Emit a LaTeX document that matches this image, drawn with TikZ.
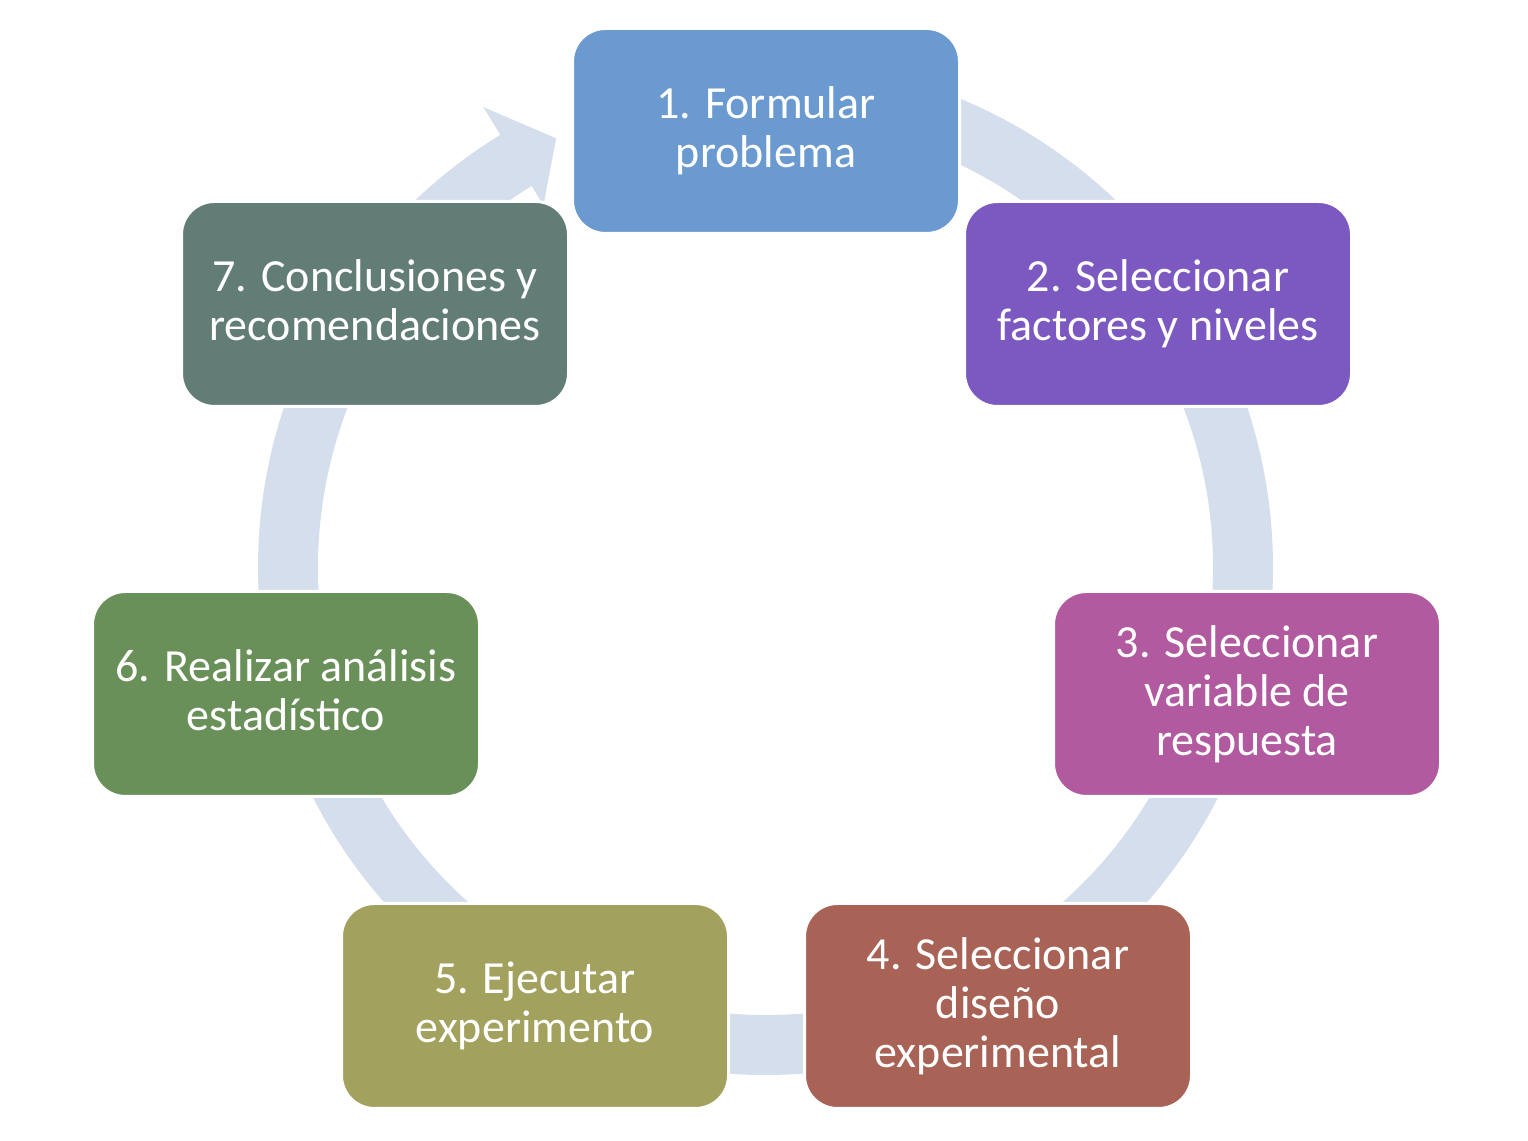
\documentclass[tikz,border=0pt]{standalone}
\usepackage{fontspec}
\setmainfont{Carlito}
\definecolor{ringc}{HTML}{D5DEEC}
\definecolor{c1}{HTML}{6A9ACF}
\definecolor{c2}{HTML}{7B59C0}
\definecolor{c3}{HTML}{B15AA0}
\definecolor{c4}{HTML}{A86356}
\definecolor{c5}{HTML}{A2A15E}
\definecolor{c6}{HTML}{6A9059}
\definecolor{c7}{HTML}{627D76}
\begin{document}
\begin{tikzpicture}[x=1pt,y=1pt,
  stepbox/.style={draw=white, line width=3pt, rounded corners=33pt,
    minimum width=387pt, minimum height=205pt, inner sep=0pt,
    align=center, text=white, font=\fontsize{46}{49}\selectfont}]
\useasboundingbox (0,0) rectangle (1528,1140);
\coordinate (c) at (765.5,572.5);
\fill[ringc] ([shift={(90:507.5)}]c) arc[start angle=90,end angle=-238.5,radius=507.5]
  -- ([shift={(121.5:540)}]c) -- ([shift={(116:477.5)}]c)
  -- ([shift={(121.5:425)}]c) -- ([shift={(121.5:447.5)}]c)
  arc[start angle=-238.5,end angle=90,radius=447.5] -- cycle;
\node[stepbox, fill=c1] (s1) at (766,1009) {1. Formular\\problema};
\node[stepbox, fill=c2] (s2) at (1158,836) {2. Seleccionar\\factores y niveles};
\node[stepbox, fill=c3] (s3) at (1247,446) {3. Seleccionar\\variable de\\respuesta};
\node[stepbox, fill=c4] (s4) at (998,134) {4. Seleccionar\\diseño\\experimental};
\node[stepbox, fill=c5] (s5) at (535,134) {5. Ejecutar\\experimento};
\node[stepbox, fill=c6] (s6) at (286,446) {6. Realizar análisis\\estadístico\vphantom{p}};
\node[stepbox, fill=c7] (s7) at (375,836) {7. Conclusiones y\\recomendaciones\vphantom{p}};
\end{tikzpicture}
\end{document}
